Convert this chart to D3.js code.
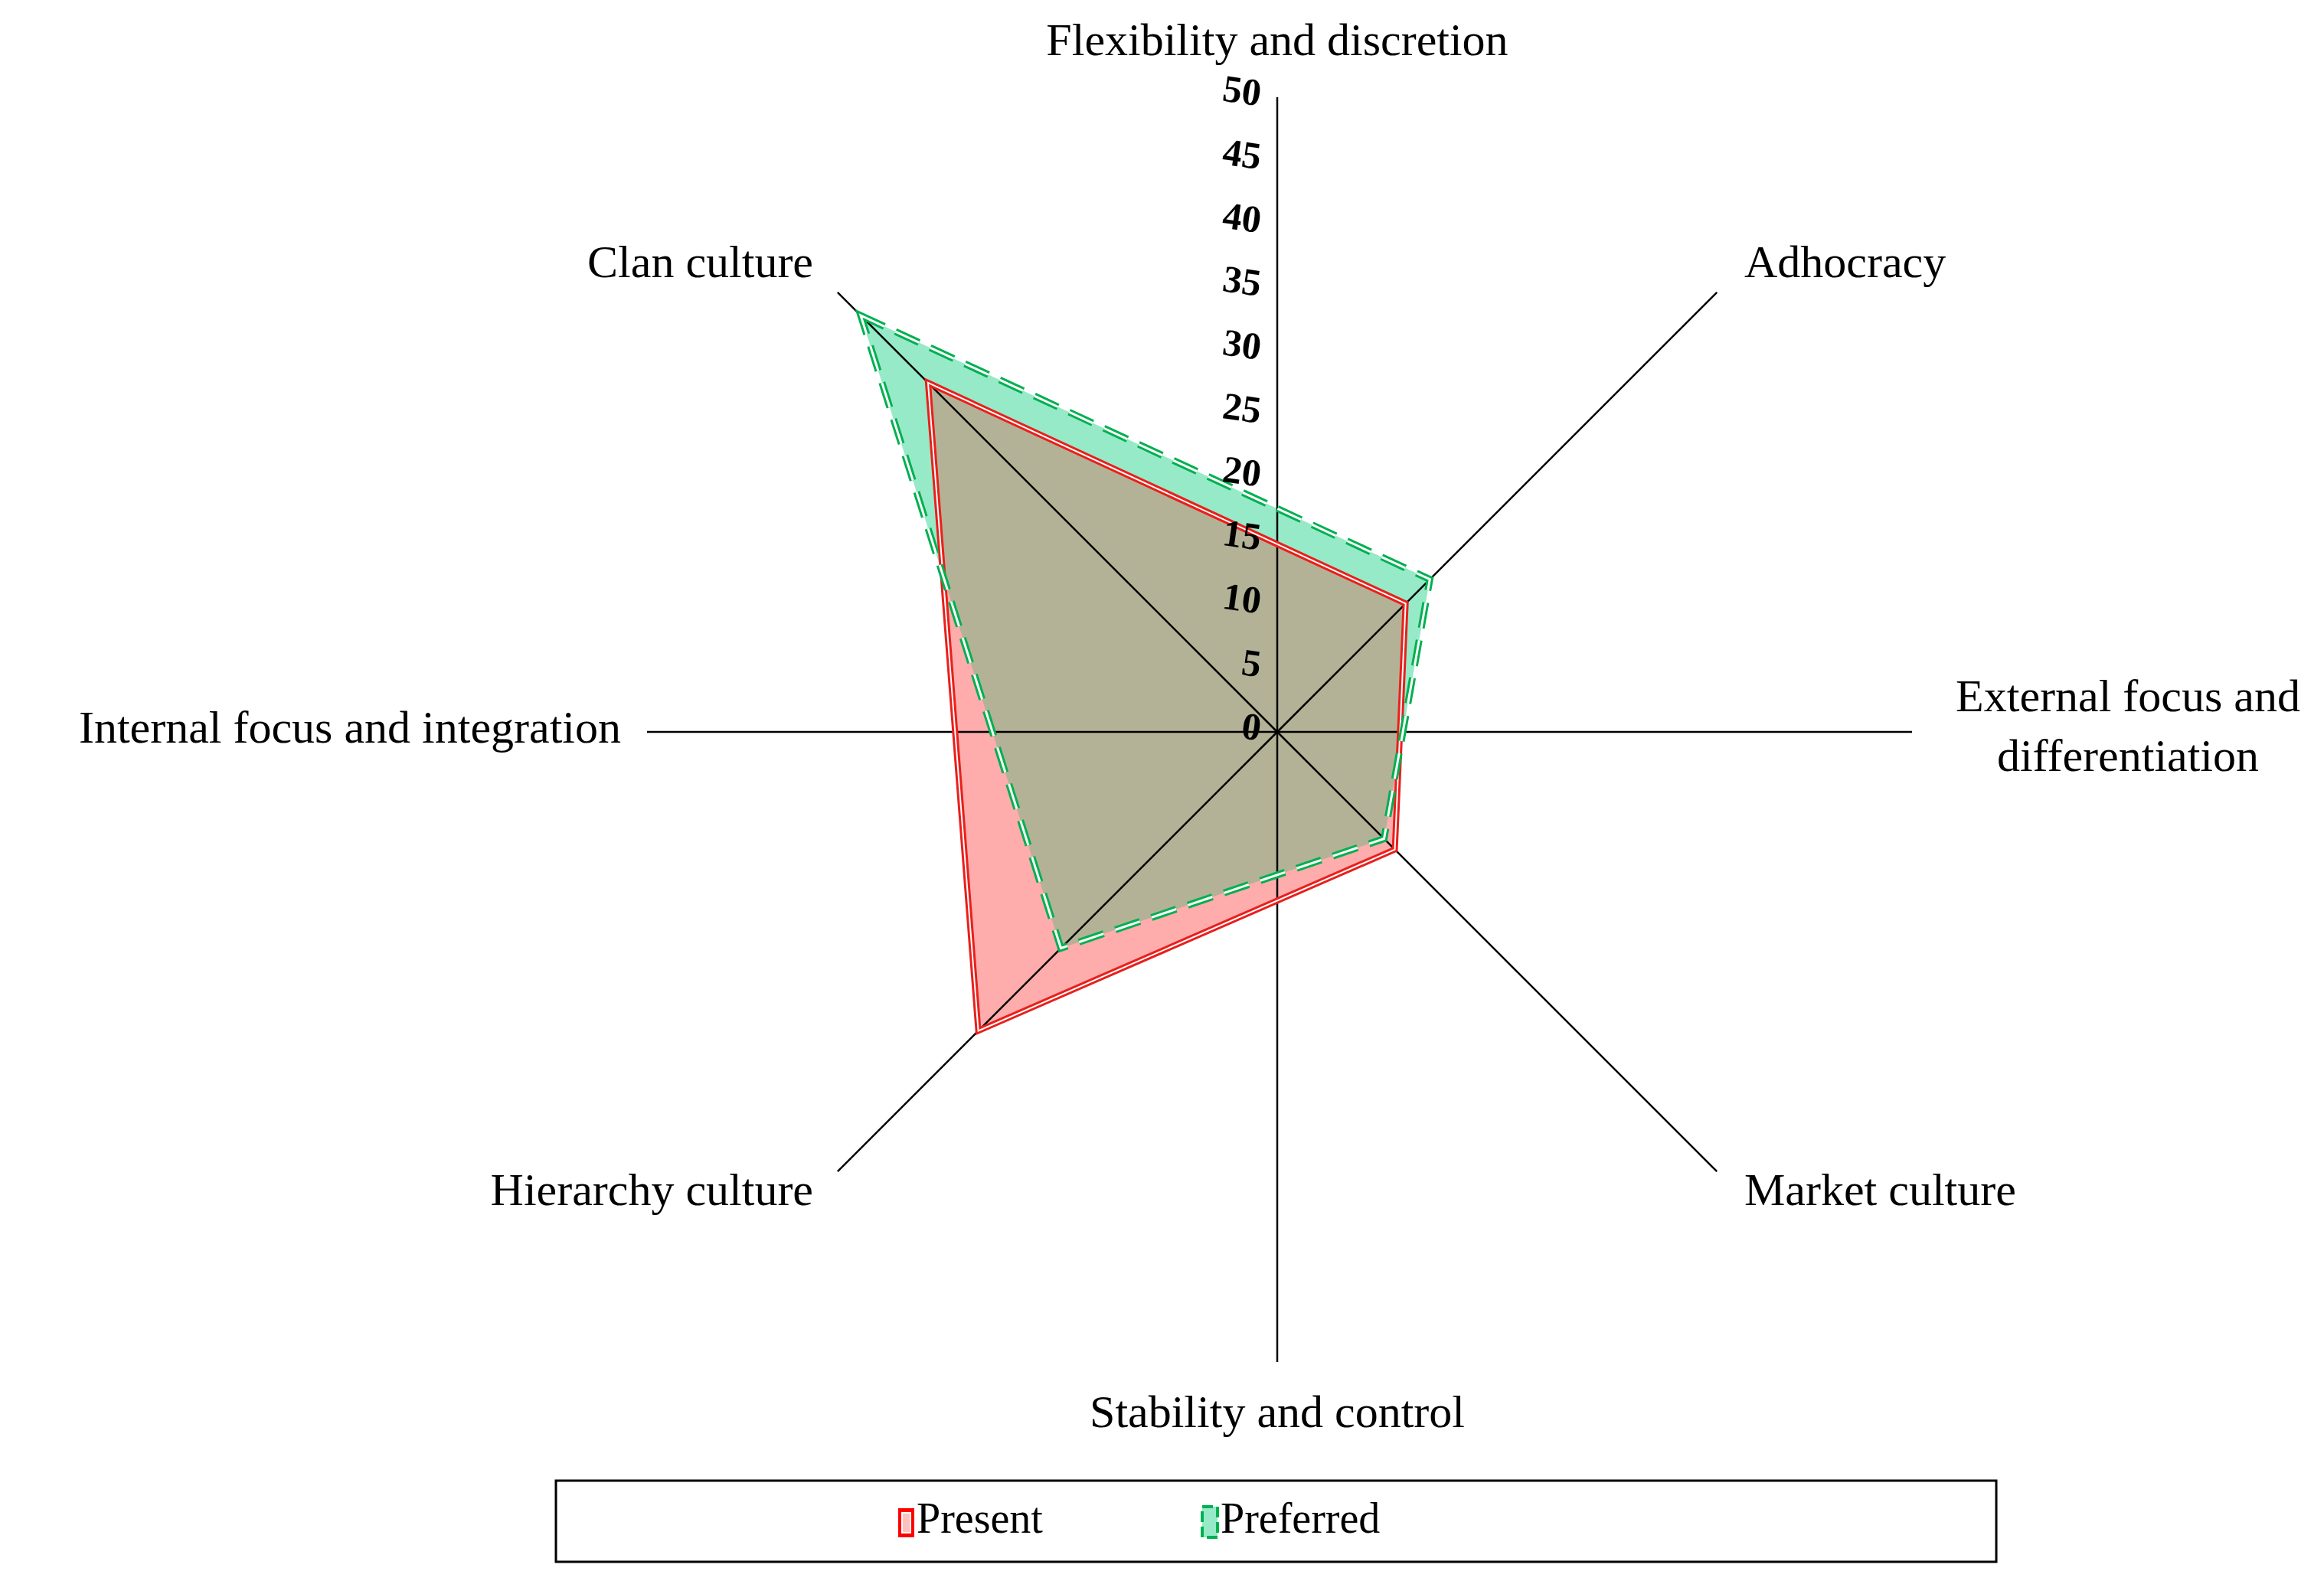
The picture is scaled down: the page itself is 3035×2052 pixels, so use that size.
<!DOCTYPE html>
<html><head><meta charset="utf-8">
<script src="https://cdn.jsdelivr.net/npm/d3@7"></script>
<style>body{margin:0;background:#fff}</style></head>
<body><svg id="c" width="3035" height="2052"></svg>
<script>
const dataAxes = ["Clan culture","Adhocracy","Market culture","Hierarchy culture"];
const dataAngles = [-45, 45, 135, 225];
const present = [38.9, 14.3, 13.1, 33.3];
const preferred = [46.4, 17.0, 11.9, 24.1];
const ticks = [0,5,10,15,20,25,30,35,40,45,50];
const seriesNames = ["Present","Preferred"];

const svg = d3.select("#c");
const cx = 1668, cy = 956;
const r = d3.scaleLinear().domain([0,50]).range([0,829]);
const font = "'Liberation Serif', 'Times New Roman', serif";
const pt = (v,a)=>{const t=a*Math.PI/180;return [cx+r(v)*Math.sin(t), cy-r(v)*Math.cos(t)];};
const line = d3.line();

const defs = svg.append("defs");
defs.append("clipPath").attr("id","clipPref").append("path")
  .attr("d", line(preferred.map((v,i)=>pt(v,dataAngles[i])))+"Z");

const g = svg.append("g");
const presPath = line(present.map((v,i)=>pt(v,dataAngles[i])))+"Z";
const prefPath = line(preferred.map((v,i)=>pt(v,dataAngles[i])))+"Z";
g.append("path").attr("d",prefPath).attr("fill","rgb(150,234,200)");
g.append("path").attr("d",presPath).attr("fill","rgb(255,172,172)");
g.append("path").attr("d",presPath).attr("fill","rgb(180,178,150)").attr("clip-path","url(#clipPref)");

// axes
const axisLines = [[0,829],[90,829],[180,823],[270,823],[45,812],[135,812],[225,812],[315,812]];
axisLines.forEach(([a,len])=>{
  const t=a*Math.PI/180;
  g.append("line").attr("x1",cx).attr("y1",cy)
   .attr("x2",cx+len*Math.sin(t)).attr("y2",cy-len*Math.cos(t))
   .attr("stroke","#000").attr("stroke-width",2.5);
});

// series outlines
g.append("path").attr("d",presPath).attr("fill","none").attr("stroke","#e8201c").attr("stroke-width",8).attr("stroke-linejoin","miter");
g.append("path").attr("d",presPath).attr("fill","none").attr("stroke","#fff").attr("stroke-width",2);
g.append("path").attr("d",prefPath).attr("fill","none").attr("stroke","#00b050").attr("stroke-width",9).attr("stroke-dasharray","34 16");
g.append("path").attr("d",prefPath).attr("fill","none").attr("stroke","#fff").attr("stroke-width",3).attr("stroke-dasharray","34 16");

// tick labels
ticks.forEach(v=>{
  const y = cy - r(v);
  svg.append("text").attr("transform",`translate(${cx-22},${y}) rotate(8)`)
    .attr("text-anchor","end").attr("dominant-baseline","middle")
    .attr("font-family",font).attr("font-weight","bold").attr("font-size",50).text(v);
});

// labels
const labels = [
  {t:["Flexibility and discretion"],x:1668,y:58,a:"middle"},
  {t:["Adhocracy"],x:2278,y:348,a:"start"},
  {t:["External focus and","differentiation"],x:2779,y:915,a:"middle"},
  {t:["Market culture"],x:2278,y:1560,a:"start"},
  {t:["Stability and control"],x:1668,y:1850,a:"middle"},
  {t:["Hierarchy culture"],x:1062,y:1560,a:"end"},
  {t:["Internal focus and integration"],x:811,y:956,a:"end"},
  {t:["Clan culture"],x:1062,y:348,a:"end"}
];
labels.forEach(L=>{
  L.t.forEach((s,i)=>svg.append("text").attr("x",L.x).attr("y",L.y+i*78)
    .attr("text-anchor",L.a).attr("dominant-baseline","middle")
    .attr("font-family",font).attr("font-size",60).text(s));
});

// legend
svg.append("rect").attr("x",726).attr("y",1934).attr("width",1881).attr("height",106)
  .attr("fill","#fff").attr("stroke","#000").attr("stroke-width",3);
const lx=[1200,1568+315];
svg.append("rect").attr("x",1173).attr("y",1970).attr("width",21).attr("height",38).attr("fill","#f00");
svg.append("rect").attr("x",1178).attr("y",1976).attr("width",11).attr("height",26).attr("fill","#ffc0c0").attr("stroke","#fff").attr("stroke-width",2);
svg.append("rect").attr("x",1570).attr("y",1968).attr("width",20).attr("height",40).attr("fill","rgb(150,234,200)").attr("stroke","#00b050").attr("stroke-width",4).attr("stroke-dasharray","14 6");
svg.append("text").attr("x",1197).attr("y",1989).attr("dominant-baseline","middle").attr("font-family",font).attr("font-size",56).text(seriesNames[0]);
svg.append("text").attr("x",1594).attr("y",1989).attr("dominant-baseline","middle").attr("font-family",font).attr("font-size",56).text(seriesNames[1]);
</script></body></html>
